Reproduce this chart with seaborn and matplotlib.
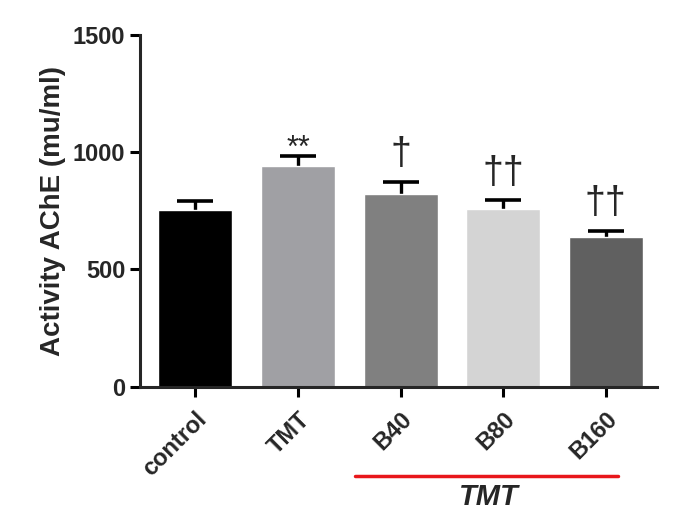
import matplotlib
matplotlib.use("Agg")
import matplotlib.pyplot as plt
import numpy as np
import pandas as pd
import seaborn as sns

# values
groups = ["control", "TMT", "B40", "B80", "B160"]
means = [755, 940, 820, 760, 638]
errors = [35, 45, 52, 35, 25]
marks = ["", "**", "\u2020", "\u2020\u2020", "\u2020\u2020"]
bar_colors = ["#000000", "#a0a0a4", "#808080", "#d4d4d4", "#606060"]

sns.set_style("ticks")
plt.rcParams["font.family"] = ["Liberation Sans", "DejaVu Sans"]

df = pd.DataFrame({"group": groups, "value": means})

fig = plt.figure(figsize=(6.86, 5.23), dpi=100)
ax = fig.add_axes([0.204, 0.2606, 0.754, 0.6724])

sns.barplot(data=df, x="group", y="value", hue="group", palette=bar_colors,
            legend=False, width=0.72, ax=ax, saturation=1, zorder=2)

# symmetric error bars drawn behind the bars, so only the upper half shows
x = np.arange(len(groups))
ax.errorbar(x, means, yerr=errors, fmt="none", ecolor="black",
            elinewidth=2.4, capsize=13, capthick=2.6, zorder=1)

for xi, m, e, s in zip(x, means, errors, marks):
    if s == "**":
        ax.annotate(s, (xi, m + e), xytext=(0, 5), textcoords="offset points",
                    ha="center", va="center", fontsize=22)
    elif s:
        ax.annotate(s, (xi, m + e), xytext=(0, 20), textcoords="offset points",
                    ha="center", va="center", fontsize=27)

ax.set_ylim(0, 1500)
ax.set_xlim(-0.54, 4.5)
ax.set_yticks([0, 500, 1000, 1500])
ax.set_xlabel("")
ax.set_ylabel("Activity AChE (mu/ml)", fontsize=20, fontweight="bold", labelpad=5)

sns.despine(ax=ax)
for sp in ["left", "bottom"]:
    ax.spines[sp].set_linewidth(2.2)
ax.tick_params(axis="both", width=2.2, length=7, labelsize=17, color="black")
ax.tick_params(axis="x", pad=8)
for lab in ax.get_yticklabels():
    lab.set_fontweight("bold")
for lab in ax.get_xticklabels():
    lab.set_fontweight("bold")
    lab.set_rotation(45)
    lab.set_ha("right")
    lab.set_va("top")
    lab.set_rotation_mode("anchor")

# group bracket under B40..B160
fig.add_artist(plt.Line2D([355 / 686, 618 / 686], [1 - 476 / 523, 1 - 476 / 523],
                          color="#e8171b", linewidth=2.5))
fig.text(489 / 686, 1 - 497 / 523, "TMT", ha="center", va="center", fontsize=21,
         fontweight="bold", fontstyle="italic")

fig.savefig("out.png", dpi=100)
